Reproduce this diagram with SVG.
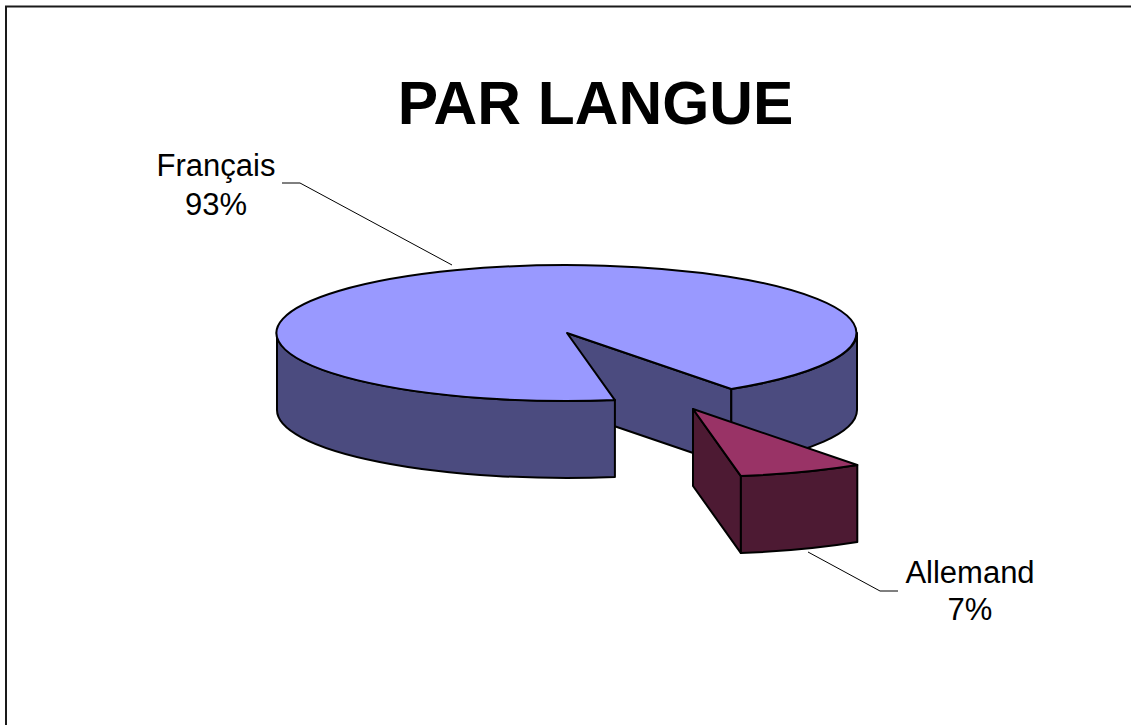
<svg xmlns="http://www.w3.org/2000/svg" width="1131" height="725" viewBox="0 0 1131 725">
<style>
.edge{stroke:#000;stroke-width:2;stroke-linejoin:round}
.topB{fill:#9999FF}
.sideB{fill:#4B4B7F}
.topR{fill:#993366}
.sideR{fill:#4D1A33}
.lbl{font-family:"Liberation Sans",Arial,sans-serif;font-size:31px;fill:#000;text-anchor:middle}
.lead{fill:none;stroke:#000;stroke-width:1}
</style>
<rect x="0" y="0" width="1131" height="725" fill="#fff"/>
<rect x="6" y="6.5" width="1300" height="900" fill="none" stroke="#1a1a1a" stroke-width="2"/>
<text x="595.5" y="124" font-family="Liberation Sans,Arial,sans-serif" font-weight="bold" font-size="60.5" text-anchor="middle">PAR LANGUE</text>
<g id="francais">
<path class="sideB edge" d="M567,333 L731.3,389 L731.3,466 L567,410 Z"/>
<path class="sideB edge" d="M857,333 A290 68 0 0 1 731.3,389 L731.3,466 A290 68 0 0 0 857,410 Z"/>
<path class="sideB edge" d="M614.9,400.1 A290 68 0 0 1 277,333 L277,410 A290 68 0 0 0 614.9,477.1 Z"/>
<path class="topB edge" d="M567,333 L614.9,400.1 A290 68 0 1 1 731.3,389 Z"/>
</g>
<g id="allemand">
<path class="sideR edge" d="M693,409 L740.9,476.1 L740.9,553.1 L693,486 Z"/>
<path class="sideR edge" d="M740.9,476.1 A290 68 0 0 0 857.3,465 L857.3,542 A290 68 0 0 1 740.9,553.1 Z"/>
<path class="topR edge" d="M693,409 L857.3,465 A290 68 0 0 1 740.9,476.1 Z"/>
</g>
<g id="connectors">
<polyline class="lead" points="282,183 300,183 452,265"/>
<polyline class="lead" points="808,552 880,591 898,591"/>
</g>
<g id="label-francais">
<text class="lbl" x="216" y="176">Français</text>
<text class="lbl" x="216" y="215">93%</text>
</g>
<g id="label-allemand">
<text class="lbl" x="970" y="583">Allemand</text>
<text class="lbl" x="970" y="620">7%</text>
</g>
</svg>
